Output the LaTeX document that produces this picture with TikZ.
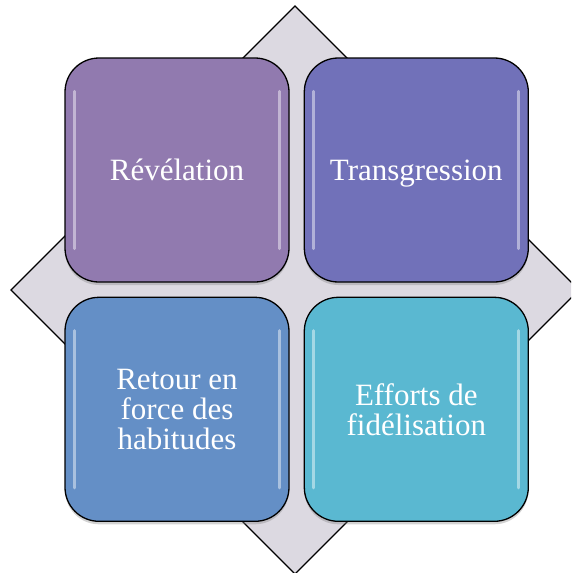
\documentclass[tikz,border=0pt]{standalone}
\usepackage{fontspec}
\setmainfont{Liberation Serif}
\usetikzlibrary{calc,positioning,shadows}

\definecolor{diamondgray}{HTML}{DCD9E1}
\definecolor{tilepurple}{HTML}{917AAF}
\definecolor{tileviolet}{HTML}{7171B9}
\definecolor{tileblue}{HTML}{648FC6}
\definecolor{tilecyan}{HTML}{5AB8D1}

\newcommand{\oneline}[1]{\raisebox{-10pt}[0pt][0pt]{#1}}

\begin{document}
\begin{tikzpicture}[x=1pt,y=-1pt,node distance=14pt]

\tikzstyle{tile}=[draw=black,line width=1.3pt,rounded corners=34pt,minimum width=224pt,minimum height=224pt,
  text=white,align=center,font=\fontsize{31}{30}\selectfont,
  drop shadow={opacity=0.35,shadow xshift=0pt,shadow yshift=-3pt}]
\tikzstyle{gloss}=[white,opacity=0.45,line width=3pt,line cap=round]

\useasboundingbox (0,0) rectangle (571,573);

% background diamond
\begin{scope}
\clip (0,0) rectangle (571,573);
\draw[fill=diamondgray,line width=1.3pt] (295,6) -- (579,290) -- (295,574) -- (11,290) -- cycle;
\end{scope}

% four tiles
\node (rev) [tile,fill=tilepurple] at (177,170) {\oneline{Révélation}};
\node (trans) [tile,fill=tileviolet,right=of rev] {\oneline{Transgression}};
\node (retour) [tile,fill=tileblue,below=of rev] {Retour en\\force des\\habitudes};
\node (effort) [tile,fill=tilecyan,right=of retour] {Efforts de\\fidélisation};

% glossy edges
\foreach \n in {rev,trans,retour,effort} {
    \draw[gloss] ($(\n.north west)+(10,34)$) -- ($(\n.south west)+(10,-34)$);
    \draw[gloss] ($(\n.north east)+(-10,34)$) -- ($(\n.south east)+(-10,-34)$);
}
\end{tikzpicture}
\end{document}
